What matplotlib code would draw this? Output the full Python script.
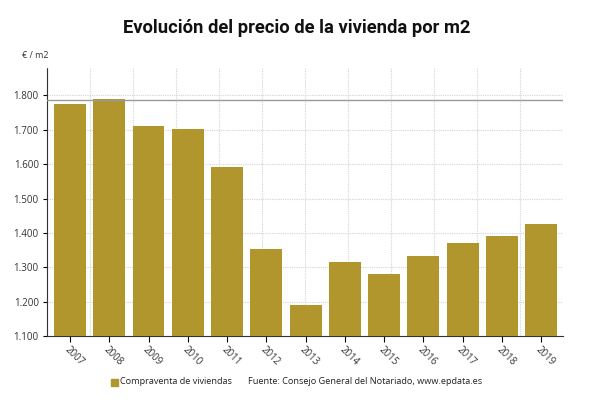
import matplotlib
matplotlib.use("Agg")
import matplotlib.pyplot as plt
from matplotlib.patches import Rectangle

years = ["2007", "2008", "2009", "2010", "2011", "2012", "2013",
         "2014", "2015", "2016", "2017", "2018", "2019"]
prices = [1774, 1791, 1710, 1703, 1592, 1352, 1190,
          1315, 1280, 1333, 1370, 1390, 1425]
ref_line = 1788
yticks = [1100, 1200, 1300, 1400, 1500, 1600, 1700, 1800]
ytick_labels = ["1.100", "1.200", "1.300", "1.400", "1.500", "1.600", "1.700", "1.800"]

plt.rcParams['font.family'] = ['Open Sans', 'DejaVu Sans']
W, H = 593, 400
fig = plt.figure(figsize=(W / 100, H / 100), dpi=100)
ax = fig.add_axes([47 / W, 1 - 336 / H, (563 - 47) / W, (336 - 68) / H])

color = "#B1962D"
x = list(range(len(years)))
ax.bar(x, prices, width=0.815, color=color, zorder=3)
ax.set_xlim(-0.586, 12.56)
ax.set_ylim(1100, 1880)

# grid
for v in yticks:
    ax.axhline(v, color="#d4d4d4", lw=0.8, ls=(0, (1, 1)), zorder=1)
for k in range(1, 13):
    ax.plot([k / 12, k / 12], [0, 1], transform=ax.transAxes,
            color="#d4d4d4", lw=0.8, ls=(0, (1, 1)), zorder=1)
ax.axhline(ref_line, color="#999999", lw=1.0, zorder=4)

ax.set_yticks(yticks)
ax.set_yticklabels(ytick_labels, fontsize=7, color="#333333")
ax.set_xticks(x)
ax.set_xticklabels(years, rotation=-45, ha="left", rotation_mode="anchor",
                   fontsize=7, color="#333333")
ax.tick_params(axis="y", length=3, width=0.8, pad=3)
ax.tick_params(axis="x", length=4, width=0.8, pad=2)

for s in ["top", "right"]:
    ax.spines[s].set_visible(False)
ax.spines["left"].set_color("#333333")
ax.spines["left"].set_linestyle((0, (1, 0.5)))
ax.spines["bottom"].set_color("#333333")

fig.text(297 / W, 1 - 28 / H, "Evolución del precio de la vivienda por m2",
         ha="center", va="center", fontsize=13.2, fontweight="bold", color="#111111",
         family=["Roboto", "DejaVu Sans"])
fig.text(22 / W, 1 - 56 / H, "€ / m2", ha="left", va="center", fontsize=6.5, color="#333333")

fig.patches.append(Rectangle((111 / W, 1 - 385.5 / H), 6.5 / W, 6.5 / H,
                             transform=fig.transFigure, color=color, figure=fig))
fig.text(120 / W, 1 - 382 / H, "Compraventa de viviendas", ha="left", va="center",
         fontsize=6.6, color="#222222")
fig.text(248 / W, 1 - 382 / H, "Fuente: Consejo General del Notariado, www.epdata.es",
         ha="left", va="center", fontsize=6.6, color="#222222")

fig.savefig("out.png", dpi=100)
